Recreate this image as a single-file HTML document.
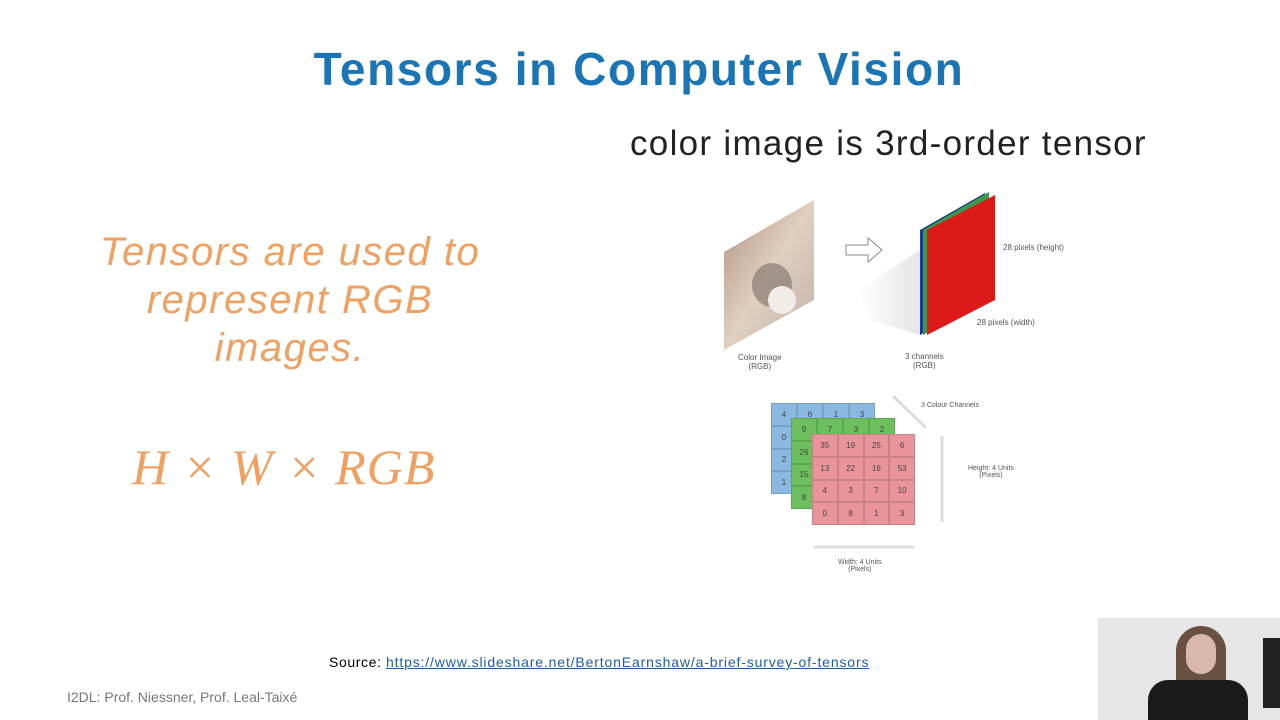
<!DOCTYPE html>
<html><head><style>
body{margin:0;width:1280px;height:720px;background:#fff;position:relative;overflow:hidden;font-family:"Liberation Sans",sans-serif}
.a{position:absolute}
h1{position:absolute;left:0;width:1278px;top:42px;margin:0;text-align:center;font-size:46px;letter-spacing:1.6px;color:#1a75b6;font-weight:bold}
.g{position:absolute;display:grid;grid-template-columns:repeat(4,1fr);grid-template-rows:repeat(4,1fr);font-size:8px;text-align:center;color:#444}
.g div{border:0.5px solid rgba(0,0,0,0.12);display:flex;align-items:center;justify-content:center}
.s{font-size:8px;color:#555;text-align:center}
</style></head><body>
<h1>Tensors in Computer Vision</h1>
<div class="a" style="left:630px;top:124px;font-size:35px;letter-spacing:1.3px;color:#222">color image is 3rd-order tensor</div>
<div class="a" style="left:80px;top:228px;width:420px;text-align:center;font-size:40px;letter-spacing:1.5px;font-style:italic;color:#f0a060;line-height:48px">Tensors are used to represent RGB images.</div>
<div class="a" style="left:132px;top:438px;font-family:'Liberation Serif',serif;font-style:italic;font-size:50px;letter-spacing:1px;color:#f0a060">H × W × RGB</div>
<svg class="a" style="left:0;top:0" width="1280" height="720">
<defs><linearGradient id="sh" x1="0" x2="1"><stop offset="0" stop-color="#fff"/><stop offset="1" stop-color="#ccc"/></linearGradient>
<linearGradient id="cat" x1="0" y1="0" x2="1" y2="1"><stop offset="0" stop-color="#b09080"/><stop offset="0.5" stop-color="#e0d0c0"/><stop offset="1" stop-color="#c0b0a8"/></linearGradient></defs>
<polygon points="724,252 814,200 814,300 724,350" fill="url(#cat)"/>
<ellipse cx="772" cy="285" rx="20" ry="22" fill="#8a7a70" opacity="0.7"/>
<ellipse cx="782" cy="300" rx="14" ry="14" fill="#f0ece8"/>
<polygon points="858,290 920,250 920,335 870,320" fill="url(#sh)" opacity="0.5"/>
<polygon points="920,230 985,193 985,300 920,335" fill="#1a3a8a"/>
<polygon points="923,230 989,192 989,300 923,335" fill="#3a9a4a"/>
<polygon points="927,230 995,195 995,300 927,335" fill="#dd1a1a"/>
<path d="M846,245 h22 v-7 l14,12 -14,12 v-7 h-22z" fill="#fff" stroke="#888"/>
<g stroke="#ddd" stroke-width="3" fill="none">
<line x1="893" y1="396" x2="926" y2="428"/><line x1="942" y1="436" x2="942" y2="522"/><line x1="814" y1="547" x2="914" y2="547"/></g>
</svg>
<div class="a s" style="left:738px;top:353px">Color Image<br>(RGB)</div>
<div class="a s" style="left:905px;top:352px">3 channels<br>(RGB)</div>
<div class="a s" style="left:1003px;top:243px">28 pixels (height)</div>
<div class="a s" style="left:977px;top:318px">28 pixels (width)</div>
<div class="a s" style="left:921px;top:402px;font-size:7px">3 Colour Channels</div>
<div class="a s" style="left:968px;top:465px;font-size:7px">Height: 4 Units<br>(Pixels)</div>
<div class="a s" style="left:838px;top:559px;font-size:7px">Width: 4 Units<br>(Pixels)</div>
<div class="g" style="left:771px;top:403px;width:104px;height:91px;background:#8ab8e0"><div>4</div><div>6</div><div>1</div><div>3</div><div>0</div><div></div><div></div><div></div><div>2</div><div></div><div></div><div></div><div>1</div><div></div><div></div><div></div></div>
<div class="g" style="left:791px;top:418px;width:104px;height:91px;background:#6cbf5c"><div>9</div><div>7</div><div>3</div><div>2</div><div>26</div><div></div><div></div><div></div><div>15</div><div></div><div></div><div></div><div>8</div><div></div><div></div><div></div></div>
<div class="g" style="left:812px;top:434px;width:103px;height:91px;background:#e8949a"><div>35</div><div>19</div><div>25</div><div>6</div><div>13</div><div>22</div><div>16</div><div>53</div><div>4</div><div>3</div><div>7</div><div>10</div><div>0</div><div>8</div><div>1</div><div>3</div></div>
<div class="a" style="left:329px;top:654px;font-size:14px;letter-spacing:0.6px;color:#000">Source: <span style="color:#1a5fa8;text-decoration:underline;letter-spacing:0.85px">https://www.slideshare.net/BertonEarnshaw/a-brief-survey-of-tensors</span></div>
<div class="a" style="left:67px;top:689px;font-size:14px;color:#777">I2DL: Prof. Niessner, Prof. Leal-Taixé</div>
<div class="a" style="left:1098px;top:618px;width:182px;height:102px;background:#e6e6e6;overflow:hidden">
<div class="a" style="left:78px;top:8px;width:50px;height:80px;background:#6a5040;border-radius:25px 25px 5px 5px"></div>
<div class="a" style="left:88px;top:16px;width:30px;height:40px;background:#d8b8a8;border-radius:15px"></div>
<div class="a" style="left:50px;top:62px;width:100px;height:50px;background:#1a1a1a;border-radius:20px 20px 0 0"></div>
<div class="a" style="left:165px;top:20px;width:17px;height:70px;background:#222"></div>
</div>
</body></html>
